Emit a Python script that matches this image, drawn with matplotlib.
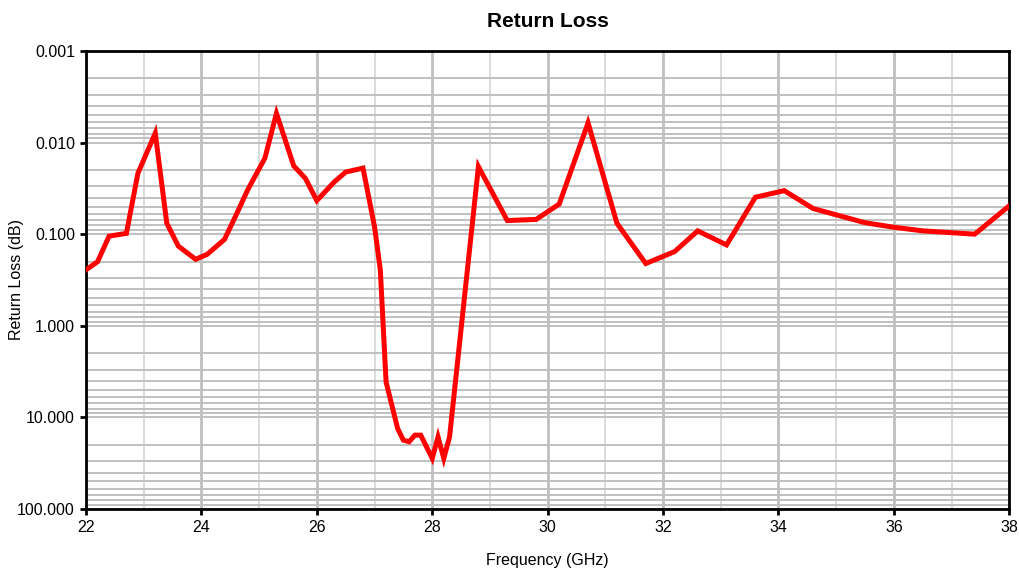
import numpy as np
import matplotlib
matplotlib.use('Agg')
import matplotlib.pyplot as plt
from matplotlib.ticker import FixedLocator, FuncFormatter, LogLocator, NullFormatter

plt.rcParams['font.family'] = ['Liberation Sans', 'DejaVu Sans']

# measured S11 return loss (dB) vs frequency (GHz)
freq = [22.0, 22.2, 22.4, 22.7, 22.9, 23.2, 23.4, 23.6, 23.9, 24.1, 24.4, 24.6,
        24.8, 25.1, 25.3, 25.6, 25.8, 26.0, 26.3, 26.5, 26.8, 27.0, 27.1, 27.2,
        27.4, 27.5, 27.6, 27.7, 27.8, 28.0, 28.1, 28.2, 28.3, 28.8, 29.3, 29.8,
        30.2, 30.7, 31.2, 31.7, 32.2, 32.6, 33.1, 33.6, 34.1, 34.6, 35.5, 36.0,
        36.5, 37.4, 38.0]
rl = [0.245, 0.20, 0.105, 0.098, 0.0216, 0.0079, 0.076, 0.135, 0.188, 0.166, 0.114, 0.062,
      0.033, 0.0148, 0.0048, 0.018, 0.0245, 0.043, 0.027, 0.021, 0.019, 0.083, 0.245, 4.1,
      13.2, 17.7, 18.4, 15.6, 15.6, 28.0, 16.3, 28.0, 16.3, 0.0183, 0.071, 0.069,
      0.047, 0.0061, 0.076, 0.209, 0.155, 0.092, 0.131, 0.0395, 0.0335, 0.0525, 0.075, 0.084,
      0.092, 0.100, 0.049]

fig = plt.figure(figsize=(10.19, 5.72), dpi=100)
ax = fig.add_axes([0.0844, 0.110, 0.9061, 0.801])

ax.plot(freq, rl, color='#ff0000', lw=3.6, solid_joinstyle='miter', zorder=3)

ax.set_yscale('log')
ax.set_ylim(100, 0.001)
ax.set_xlim(22, 38)

ax.xaxis.set_major_locator(FixedLocator(np.arange(22, 39, 2)))
ax.xaxis.set_minor_locator(FixedLocator(np.arange(23, 38, 2)))
ax.yaxis.set_major_locator(LogLocator(base=10, numticks=10))
ax.yaxis.set_minor_locator(LogLocator(base=10, subs=np.arange(2, 10), numticks=20))
ax.yaxis.set_minor_formatter(NullFormatter())
ax.yaxis.set_major_formatter(FuncFormatter(lambda v, p: '%.3f' % v))

ax.grid(True, which='major', axis='x', color='#c0c0c0', lw=2.0)
ax.grid(True, which='minor', axis='x', color='#d4d4d4', lw=1.2)
ax.grid(True, which='both', axis='y', color='#c0c0c0', lw=1.4)
ax.set_axisbelow(True)

for s in ax.spines.values():
    s.set_linewidth(2.0)
    s.set_color('black')

ax.tick_params(which='major', direction='out', length=4, width=2, labelsize=11.5, pad=4)
ax.tick_params(which='minor', length=0)

ax.set_title('Return Loss', fontsize=15, fontweight='bold', pad=17)
ax.set_xlabel('Frequency (GHz)', fontsize=11.5, labelpad=13)
ax.set_ylabel('Return Loss (dB)', fontsize=11.5, va='center')
ax.yaxis.set_label_coords(-0.075, 0.5)

fig.savefig('out.png', dpi=100)
